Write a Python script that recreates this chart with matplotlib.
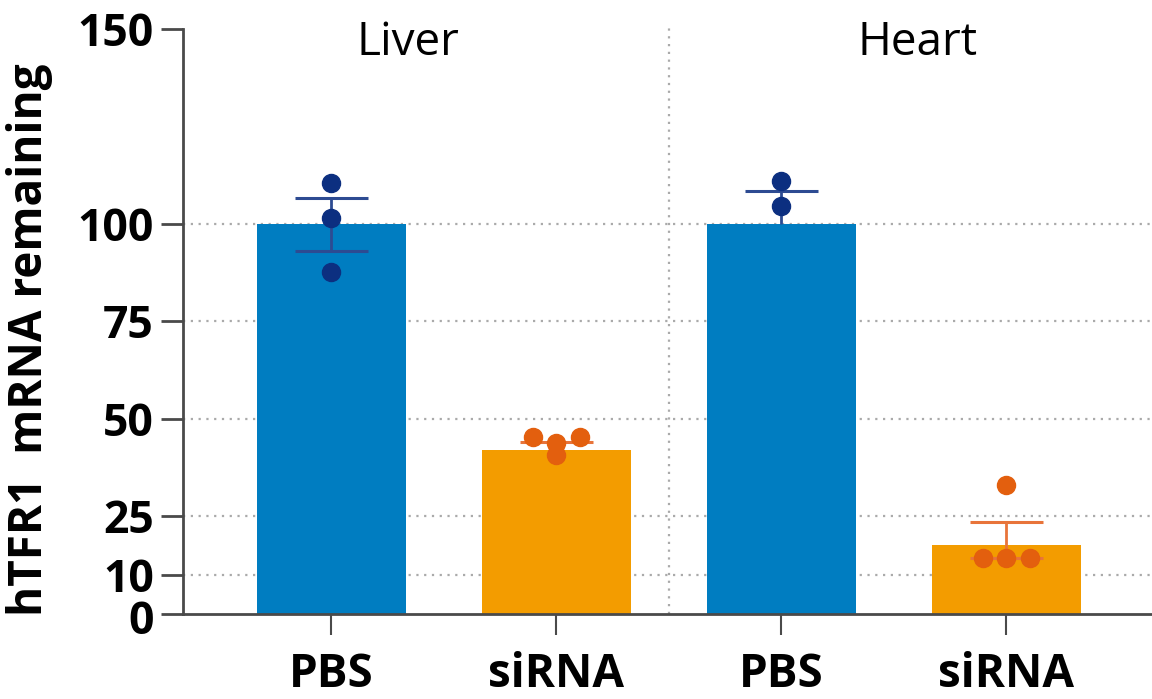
import matplotlib
matplotlib.use("Agg")
import matplotlib.pyplot as plt
import matplotlib.transforms as mtransforms
import numpy as np

# ---- data ----
tissues = ["Liver", "Heart"]
treatments = ["PBS", "siRNA", "PBS", "siRNA"]
bar_means = [100.0, 42.0, 100.0, 17.6]
err_upper = [6.7, 2.0, 8.4, 5.9]
err_lower = [7.0, 0.0, 0.0, 3.4]
pts_liver_pbs = [110.5, 101.5, 87.6]
pts_liver_sirna = [45.3, 43.8, 45.3, 40.7]
pts_heart_pbs = [111.0, 104.6]
pts_heart_sirna = [14.2, 14.2, 14.2, 33.0]
yticks = [0, 10, 25, 50, 75, 100, 150]
gridvals = [10, 25, 50, 75, 100]

# ---- style ----
plt.rcParams['font.family'] = ['Open Sans', 'Noto Sans', 'DejaVu Sans']
bold_fam = ['Open Sans', 'Lato', 'DejaVu Sans']
bar_colors = ["#007dc1", "#f39c00", "#007dc1", "#f39c00"]
pt_colors = ["#0c2f80", "#e35f0e", "#0c2f80", "#e35f0e"]
err_colors = ["#2d4b92", "#e8743a", "#2d4b92", "#e8743a"]
axis_col = "#4a4a4a"

fig = plt.figure(figsize=(11.52, 6.99), dpi=100)
ax = fig.add_axes([183/1152, 1-613.5/699, 1-183/1152, (613.5-29)/699])

x = np.arange(len(treatments))
bar_w = 0.662

for g in gridvals:
    ax.axhline(g, color="#aaaaaa", lw=1.6, ls=(0, (1, 2.5)), zorder=0)
ax.axvline(1.5, color="#aaaaaa", lw=1.6, ls=(0, (1, 2.5)), zorder=0, ymax=1.01, clip_on=False)

ax.bar(x, bar_means, width=bar_w, color=bar_colors, zorder=1)

# error bars
cap_half = 0.163
for i in range(len(x)):
    lo = bar_means[i] - err_lower[i]
    hi = bar_means[i] + err_upper[i]
    ax.vlines(x[i], lo, hi, color=err_colors[i], lw=2, zorder=2)
    if err_upper[i] > 0:
        ax.hlines(hi, x[i]-cap_half, x[i]+cap_half, color=err_colors[i], lw=2.2, zorder=2)
    if err_lower[i] > 0:
        ax.hlines(lo, x[i]-cap_half, x[i]+cap_half, color=err_colors[i], lw=2.2, zorder=2)

# individual points (horizontal spread = layout only)
groups = [pts_liver_pbs, pts_liver_sirna, pts_heart_pbs, pts_heart_sirna]
spreads = [[0, 0, 0], [-1, 0, 1, 0], [0, 0], [-1, 0, 1, 0]]
dx = 0.103
for i, (vals, sp) in enumerate(zip(groups, spreads)):
    xs = x[i] + np.array(sp) * dx
    ax.plot(xs, vals, ls="none", marker="o", ms=13, color=pt_colors[i],
            mec=pt_colors[i], zorder=3, clip_on=False)

# axes
ax.set_xlim(-0.66, 3.647)
ax.set_ylim(0, 150)
ax.set_yticks(yticks)
ax.set_yticklabels([str(t) for t in yticks], fontsize=32, fontweight="bold", family=bold_fam)
ax.set_xticks(x)
ax.set_xticklabels(treatments, fontsize=33, fontweight="bold", family=bold_fam)
ax.tick_params(axis="y", length=16, width=2, color=axis_col, pad=5)
ax.tick_params(axis="x", length=15, width=1.5, color=axis_col, pad=12)
for s in ["top", "right"]:
    ax.spines[s].set_visible(False)
for s in ["left", "bottom"]:
    ax.spines[s].set_color(axis_col)
    ax.spines[s].set_linewidth(2)

# nudge the "0" label slightly down, as in the reference
zero_lbl = ax.get_yticklabels()[0]
zero_lbl.set_transform(zero_lbl.get_transform() +
                       mtransforms.ScaledTranslation(0, -4/100, fig.dpi_scale_trans))

ax.set_ylabel("hTFR1  mRNA remaining", fontsize=33, fontweight="bold", family=bold_fam)
ax.yaxis.set_label_coords(-0.134, 0.468)

# group titles
title_x = [0.34, 2.607]
for t, tx in zip(tissues, title_x):
    ax.text(tx, 146.5, t, fontsize=33, ha="center", va="center", zorder=4)

fig.savefig("out.png", dpi=100)
